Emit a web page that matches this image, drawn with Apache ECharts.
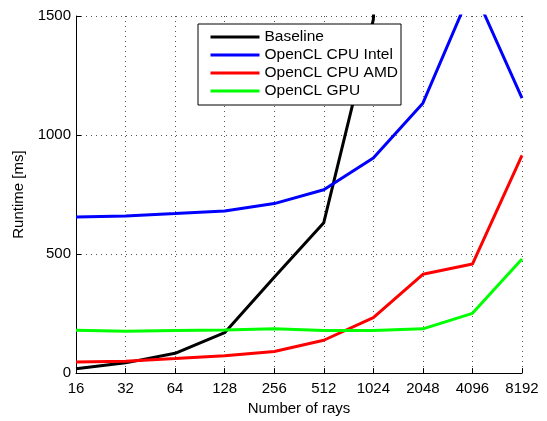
<!DOCTYPE html>
<html>
<head>
<meta charset="utf-8">
<script src="https://cdn.jsdelivr.net/npm/echarts@6/dist/echarts.min.js"></script>
<style>
html,body{margin:0;padding:0;background:#fff;}
#chart{width:547px;height:421px;}
</style>
</head>
<body>
<div id="chart"></div>
<script>
var categories = ['16','32','64','128','256','512','1024','2048','4096','8192'];
var baseline = [18, 43, 83, 170, 403, 632, 1485, 6000, 24000, 96000];
var cpuIntel = [656, 660, 670, 681, 712, 770, 904, 1134, 1620, 1155];
var cpuAmd   = [47, 50, 61, 73, 91, 138, 233, 415, 458, 915];
var gpu      = [180, 176, 179, 181, 186, 179, 179, 186, 251, 479];
var seriesNames = ['Baseline', 'OpenCL CPU Intel', 'OpenCL CPU AMD', 'OpenCL GPU'];
var seriesColors = ['#000000', '#0000ff', '#ff0000', '#00ff00'];
var seriesData = [baseline, cpuIntel, cpuAmd, gpu];

var FONT = 'Liberation Sans, Arial, Helvetica, sans-serif';
var FS = 15;

var chart = echarts.init(document.getElementById('chart'), null, {renderer: 'canvas'});
chart.setOption({
  animation: false,
  backgroundColor: '#ffffff',
  grid: {left: 76, right: 25, top: 16, bottom: 44, containLabel: false},
  legend: {
    orient: 'vertical',
    left: 198,
    top: 24,
    z: 20,
    padding: [5, 3, 6, 11],
    itemWidth: 49,
    itemHeight: 14,
    itemGap: 2,
    borderColor: '#000',
    borderWidth: 1,
    backgroundColor: '#fff',
    data: seriesNames,
    itemStyle: {opacity: 0},
    lineStyle: {width: 3},
    textStyle: {fontFamily: FONT, fontSize: 15.5, color: '#000', width: 130}
  },
  xAxis: {
    type: 'category',
    data: categories,
    boundaryGap: false,
    name: 'Number of rays',
    nameLocation: 'middle',
    nameGap: 27,
    nameTextStyle: {fontFamily: FONT, fontSize: FS, color: '#000'},
    axisLine: {lineStyle: {color: '#000', width: 1}},
    axisTick: {inside: true, length: 5, lineStyle: {color: '#000'}},
    axisLabel: {fontFamily: FONT, fontSize: FS, color: '#000', margin: 8},
    splitLine: {show: true, lineStyle: {color: '#555', type: [1, 4], width: 1}}
  },
  yAxis: {
    type: 'value',
    min: 0,
    max: 1500,
    interval: 500,
    name: 'Runtime [ms]',
    nameLocation: 'middle',
    nameGap: 41,
    nameTextStyle: {fontFamily: FONT, fontSize: FS, color: '#000'},
    axisLine: {show: true, lineStyle: {color: '#000', width: 1}},
    axisTick: {show: true, inside: true, length: 5, lineStyle: {color: '#000'}},
    axisLabel: {fontFamily: FONT, fontSize: FS, color: '#000', margin: 5,
      formatter: function (v) { return String(v); }},
    splitLine: {show: true, lineStyle: {color: '#555', type: [1, 4], width: 1}}
  },
  series: seriesNames.map(function (n, i) {
    return {
      name: n,
      type: 'line',
      data: seriesData[i],
      symbol: 'none',
      clip: true,
      color: seriesColors[i],
      lineStyle: {color: seriesColors[i], width: 3},
      z: 2
    };
  })
});
</script>
</body>
</html>
